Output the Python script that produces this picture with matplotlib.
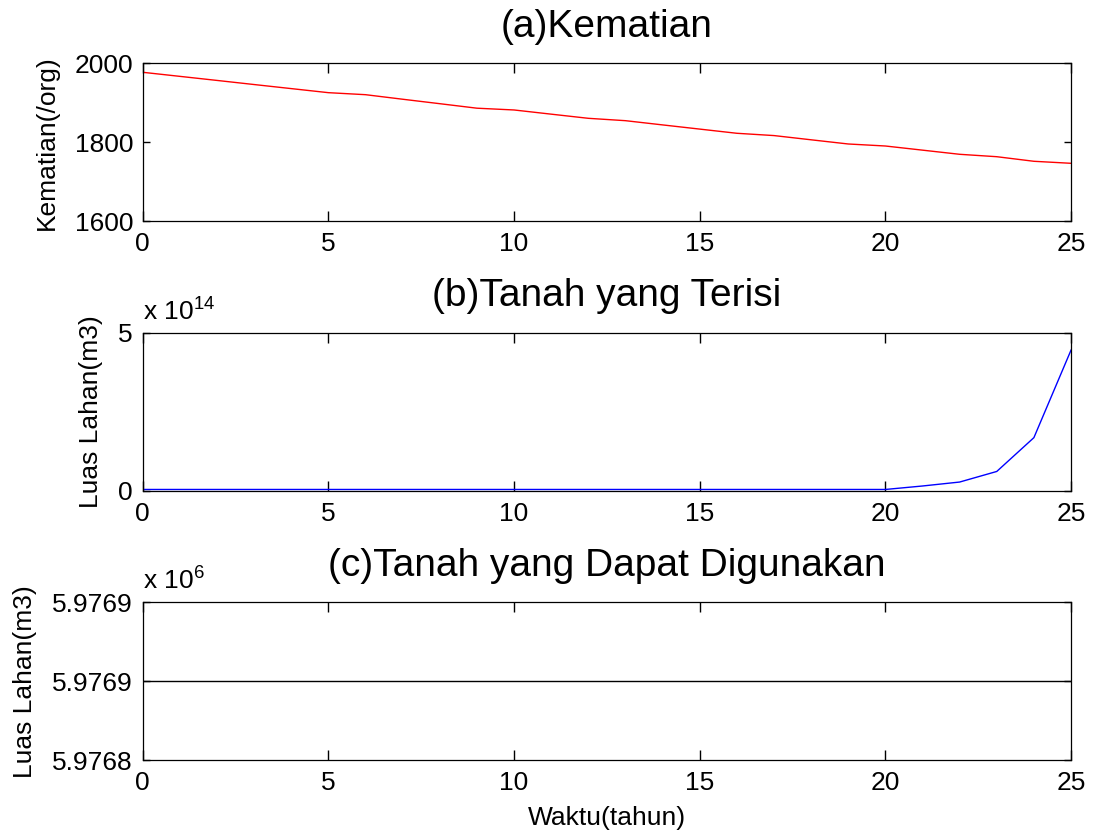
import matplotlib
matplotlib.use("Agg")
import matplotlib.pyplot as plt

plt.rcParams['font.family'] = ['Liberation Sans', 'DejaVu Sans']
plt.rcParams['mathtext.fontset'] = 'custom'
plt.rcParams['mathtext.rm'] = 'Liberation Sans'

# ---- data ----
years = [0, 1, 2, 3, 4, 5, 6, 7, 8, 9, 10, 11, 12, 13, 14, 15, 16, 17, 18, 19,
         20, 21, 22, 23, 24, 25]

deaths = [1977.2, 1966.9, 1956.6, 1946.2, 1935.9, 1925.6, 1920.5, 1909.0, 1897.7,
          1886.3, 1881.8, 1871.2, 1860.7, 1854.7, 1844.0, 1833.4, 1822.8, 1817.0,
          1806.3, 1795.7, 1790.6, 1780.1, 1769.6, 1763.5, 1751.9, 1746.8]

filled_land = [4e12, 4e12, 4e12, 4e12, 4e12, 4e12, 4e12, 4e12, 4e12, 4e12, 4e12,
               4e12, 4e12, 4e12, 4e12, 4e12, 4e12, 4e12, 4e12, 4e12, 4e12,
               1.5e13, 2.75e13, 6.1e13, 1.68e14, 4.45e14]

usable_land = [5976850.4, 5976850.4, 5976850.4, 5976850.4, 5976850.4, 5976850.4,
               5976850.4, 5976850.4, 5976850.4, 5976850.4, 5976850.4, 5976850.4,
               5976850.4, 5976850.4, 5976850.4, 5976850.4, 5976850.4, 5976850.4,
               5976850.4, 5976850.4, 5976850.4, 5976850.4, 5976850.4, 5976850.4,
               5976850.4, 5976850.4]

x_ticks = [0, 5, 10, 15, 20, 25]
a_yticks = [1600, 1800, 2000]
b_yticks = [0, 5e14]
b_yticklabels = ["0", "5"]
c_yticks = [5976849.4, 5976850.4, 5976851.4]
c_yticklabels = ["5.9768", "5.9769", "5.9769"]

titles = ["(a)Kematian", "(b)Tanah yang Terisi", "(c)Tanah yang Dapat Digunakan"]
ylabels = ["Kematian(/org)", "Luas Lahan(m3)", "Luas Lahan(m3)"]
xlabel = "Waktu(tahun)"

# ---- figure ----
fig = plt.figure(figsize=(10.93, 8.36), dpi=100)
left, width, height = 0.1306, 0.8493, 0.189
bottoms = [0.7353, 0.4130, 0.0906]
axes = [fig.add_axes([left, b, width, height]) for b in bottoms]

TICK_FS = 19
for ax in axes:
    ax.set_xlim(0, 25)
    ax.set_xticks(x_ticks)
    ax.tick_params(axis='both', direction='in', top=True, right=True,
                   labelsize=TICK_FS, width=1.0, color='black')
    ax.tick_params(axis='x', length=7, pad=8)
    ax.tick_params(axis='y', length=5, pad=7)
    for s in ax.spines.values():
        s.set_linewidth(0.9)
        s.set_color('black')

ax1, ax2, ax3 = axes

ax1.plot(years, deaths, color='red', linewidth=1.0)
ax1.set_ylim(1600, 2000)
ax1.set_yticks(a_yticks)

ax2.plot(years, filled_land, color='blue', linewidth=1.0)
ax2.set_ylim(0, 5e14)
ax2.set_yticks(b_yticks)
ax2.set_yticklabels(b_yticklabels)

ax3.plot(years, usable_land, color='black', linewidth=1.0)
ax3.set_ylim(c_yticks[0], c_yticks[-1])
ax3.set_yticks(c_yticks)
ax3.set_yticklabels(c_yticklabels)

exps = [None, r'x $\mathregular{10^{14}}$', r'x $\mathregular{10^{6}}$']
for ax, t, yl, ex in zip(axes, titles, ylabels, exps):
    ax.set_title(t, fontsize=28, pad=19)
    ax.set_ylabel(yl, fontsize=19, labelpad=11)
    if ex:
        ax.annotate(ex, xy=(0, 1), xycoords='axes fraction', xytext=(0, 9),
                    textcoords='offset points', ha='left', va='baseline',
                    fontsize=19)

ax3.set_xlabel(xlabel, fontsize=19, labelpad=8)

fig.savefig("out.png", dpi=100, facecolor='white')
